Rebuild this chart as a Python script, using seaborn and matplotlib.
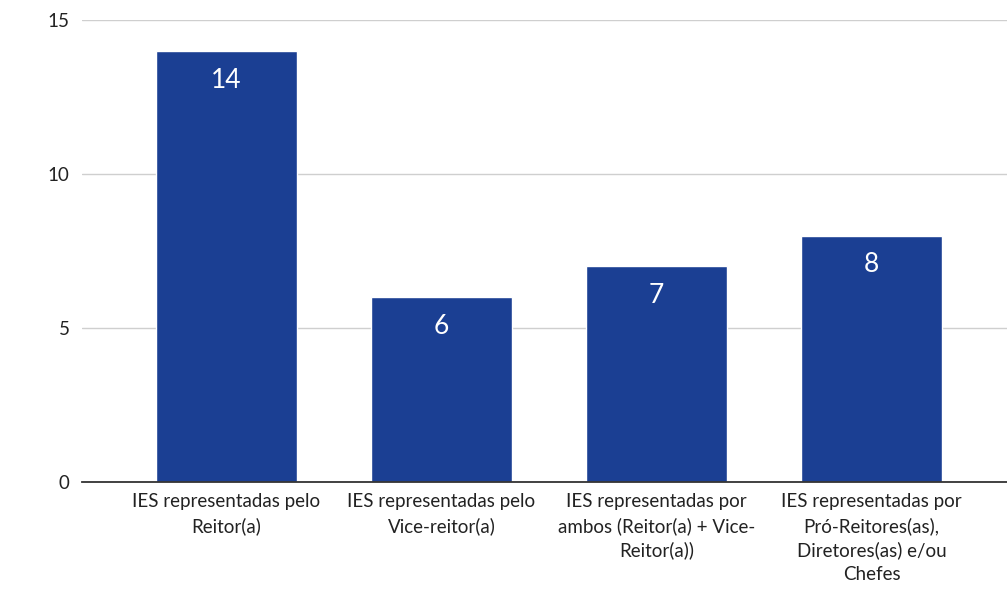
import pandas as pd
import matplotlib.pyplot as plt
import seaborn as sns

# data
categorias = [
    'IES representadas pelo\nReitor(a)',
    'IES representadas pelo\nVice-reitor(a)',
    'IES representadas por\nambos (Reitor(a) + Vice-\nReitor(a))',
    'IES representadas por\nPró-Reitores(as),\nDiretores(as) e/ou\nChefes',
]
valores = [14, 6, 7, 8]
y_ticks = [0, 5, 10, 15]

BAR_COLOR = '#1b3f93'

sns.set_theme(style='white')
plt.rcParams['font.family'] = ['Lato', 'DejaVu Sans']

df = pd.DataFrame({'cat': categorias, 'val': valores})

fig = plt.figure(figsize=(10.07, 5.90), dpi=100)
ax = fig.add_axes([0.0814, 0.183, 0.9186, 0.783])

sns.barplot(data=df, x='cat', y='val', color=BAR_COLOR, saturation=1,
            width=0.656, ax=ax, zorder=3)

ax.set_ylim(0, 15)
ax.set_xlim(-0.672, 3.63)
ax.set_yticks(y_ticks)
ax.yaxis.grid(True, color='#cfcfcf', linewidth=1)
ax.set_axisbelow(True)
for s in ['top', 'right', 'left']:
    ax.spines[s].set_visible(False)
ax.spines['bottom'].set_color('#333333')
ax.spines['bottom'].set_linewidth(1.3)
ax.spines['bottom'].set_zorder(4)
ax.set_xlabel('')
ax.set_ylabel('')
ax.tick_params(axis='both', length=0, labelsize=13.5, colors='#222222')
ax.tick_params(axis='y', pad=9)
ax.tick_params(axis='x', pad=8)
for lab in ax.get_xticklabels():
    lab.set_linespacing(1.45)

# value labels inside bars
for i, v in enumerate(valores):
    ax.annotate(str(v), (i, v), xytext=(0, -21), textcoords='offset points',
                ha='center', va='center', color='white', fontsize=19)

fig.savefig('out.png', dpi=100, facecolor='white')
